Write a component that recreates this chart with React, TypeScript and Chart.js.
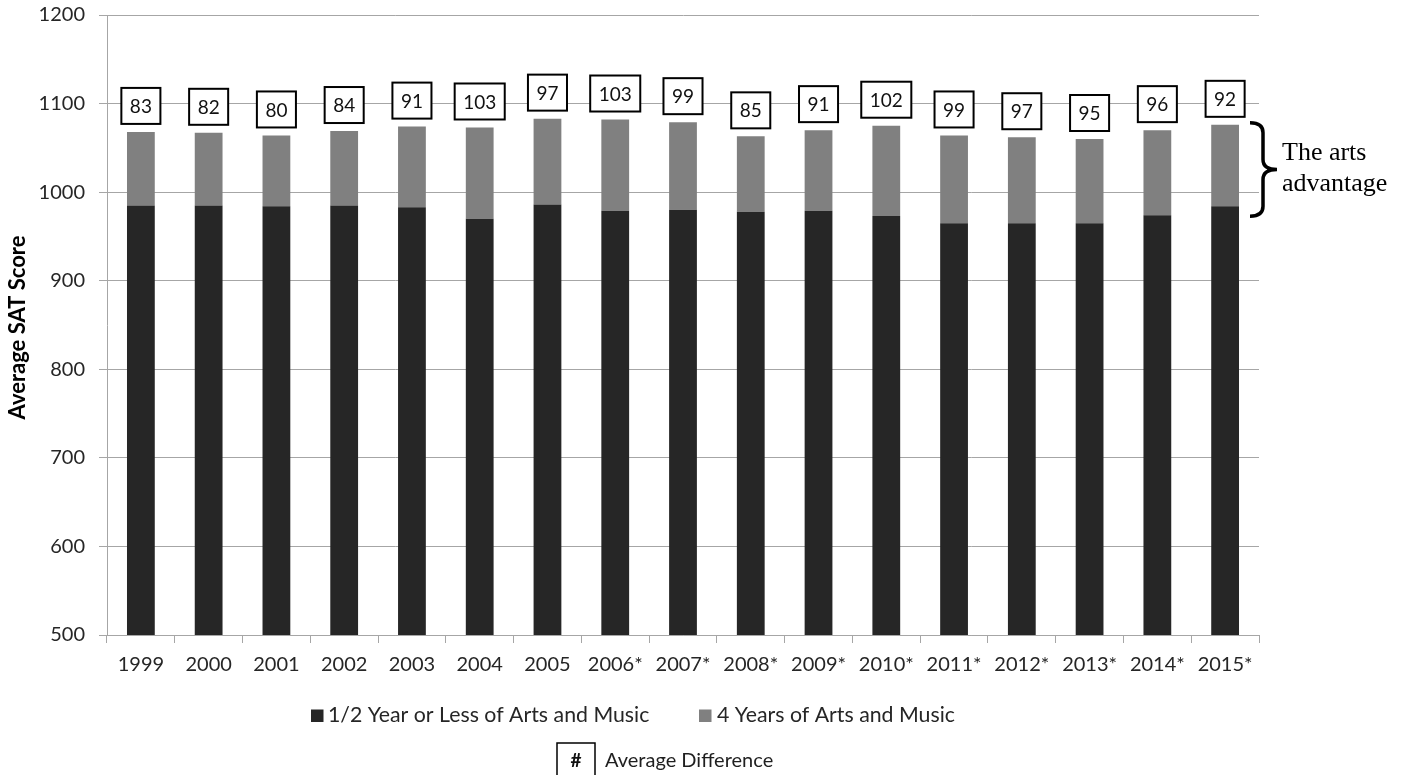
import React, { useEffect, useRef } from 'react';
import { Chart, registerables } from 'chart.js';

Chart.register(...registerables);

// ---- data ----
const years = ['1999', '2000', '2001', '2002', '2003', '2004', '2005', '2006*', '2007*', '2008*', '2009*', '2010*', '2011*', '2012*', '2013*', '2014*', '2015*'];
const lowArtsScores = [985, 985, 984, 985, 983, 970, 986, 979, 980, 978, 979, 973, 965, 965, 965, 974, 984];
const artsDifference = [83, 82, 80, 84, 91, 103, 97, 103, 99, 85, 91, 102, 99, 97, 95, 96, 92];
const seriesNames = ['1/2 Year or Less of Arts and Music', '4 Years of Arts and Music'];
const seriesColors = ['#262626', '#808080'];
const yMin = 500;
const yMax = 1200;
const yStep = 100;
const yTitle = 'Average SAT Score';
const noteSymbol = '#';
const noteLabel = 'Average Difference';
const braceLines = ['The arts', 'advantage'];

const FONT = 'Lato, "Open Sans", sans-serif';
const TEXT = '#262626';
const GRID = '#a6a6a6';

const overlayPlugin = {
  id: 'overlay',
  afterDatasetsDraw(chart: any) {
    const ctx = chart.ctx as CanvasRenderingContext2D;
    const xs = chart.scales.x;
    const ys = chart.scales.y;
    ctx.save();
    // difference boxes above bars
    ctx.font = `19px ${FONT}`;
    ctx.textAlign = 'center';
    ctx.textBaseline = 'middle';
    lowArtsScores.forEach((v, i) => {
      const d = artsDifference[i];
      const cx = xs.getPixelForValue(i);
      const top = ys.getPixelForValue(v + d);
      const txt = String(d);
      const w = ctx.measureText(txt).width + 17;
      const h = 36;
      const by = top - 8 - h;
      ctx.fillStyle = '#ffffff';
      ctx.fillRect(cx - w / 2, by, w, h);
      ctx.lineWidth = 2;
      ctx.strokeStyle = '#000000';
      ctx.strokeRect(cx - w / 2, by, w, h);
      ctx.fillStyle = '#111111';
      ctx.fillText(txt, cx, by + h / 2 + 1);
    });

    // curly brace on last bar's advantage segment
    const last = lowArtsScores.length - 1;
    const bTop = ys.getPixelForValue(lowArtsScores[last] + artsDifference[last]) - 2;
    const bBot = ys.getPixelForValue(lowArtsScores[last]) + 10;
    const x0 = chart.chartArea.right - 9;
    const x1 = x0 + 27;
    const xm = x0 + 13;
    const mid = (bTop + bBot) / 2;
    const r = 10;
    ctx.beginPath();
    ctx.moveTo(x0, bTop);
    ctx.quadraticCurveTo(xm, bTop, xm, bTop + r);
    ctx.lineTo(xm, mid - r);
    ctx.quadraticCurveTo(xm, mid, x1, mid);
    ctx.quadraticCurveTo(xm, mid, xm, mid + r);
    ctx.lineTo(xm, bBot - r);
    ctx.quadraticCurveTo(xm, bBot, x0, bBot);
    ctx.lineWidth = 3.5;
    ctx.strokeStyle = '#000';
    ctx.stroke();

    ctx.font = '26px "Liberation Serif", "Times New Roman", serif';
    ctx.fillStyle = '#000';
    ctx.textAlign = 'left';
    ctx.textBaseline = 'alphabetic';
    ctx.fillText(braceLines[0], x1 + 5, 160);
    ctx.fillText(braceLines[1], x1 + 5, 191);
    ctx.restore();
  },
  afterDraw(chart: any) {
    const ctx = chart.ctx as CanvasRenderingContext2D;
    ctx.save();
    // y axis title
    ctx.translate(17.5, 327.5);
    ctx.rotate(-Math.PI / 2);
    ctx.font = `bold 22px ${FONT}`;
    ctx.fillStyle = '#000';
    ctx.textAlign = 'center';
    ctx.textBaseline = 'middle';
    ctx.fillText(yTitle, 0, 0);
    ctx.restore();

    ctx.save();
    // legend row 1
    ctx.textAlign = 'left';
    ctx.textBaseline = 'alphabetic';
    const items = [
      { sx: 311, tx: 328 },
      { sx: 699, tx: 717 },
    ];
    ctx.font = `21.3px ${FONT}`;
    chart.data.datasets.forEach((ds: any, i: number) => {
      ctx.fillStyle = ds.backgroundColor;
      ctx.fillRect(items[i].sx, 709.5, 12.5, 12.5);
      ctx.fillStyle = TEXT;
      ctx.fillText(ds.label, items[i].tx, 722);
    });
    // legend row 2: boxed symbol
    ctx.strokeStyle = '#000';
    ctx.lineWidth = 1.5;
    ctx.beginPath();
    ctx.moveTo(557, 790);
    ctx.lineTo(557, 743);
    ctx.lineTo(595, 743);
    ctx.lineTo(595, 790);
    ctx.stroke();
    ctx.font = `bold 19px ${FONT}`;
    ctx.textAlign = 'center';
    ctx.fillStyle = '#111';
    ctx.fillText(noteSymbol, 576, 767);
    ctx.font = `20px ${FONT}`;
    ctx.textAlign = 'left';
    ctx.fillStyle = '#1f1f1f';
    ctx.fillText(noteLabel, 605, 767);
    ctx.restore();
  },
};

export default function App() {
  const canvasRef = useRef<HTMLCanvasElement | null>(null);

  useEffect(() => {
    if (!canvasRef.current) return;
    Chart.defaults.font.family = FONT;
    const chart = new Chart(canvasRef.current, {
      type: 'bar',
      data: {
        labels: years,
        datasets: [
          {
            label: seriesNames[0],
            data: lowArtsScores,
            backgroundColor: seriesColors[0],
            borderWidth: 0,
            categoryPercentage: 1,
            barPercentage: 0.41,
          },
          {
            label: seriesNames[1],
            data: artsDifference,
            backgroundColor: seriesColors[1],
            borderWidth: 0,
            categoryPercentage: 1,
            barPercentage: 0.41,
          },
        ],
      },
      options: {
        animation: false,
        responsive: true,
        maintainAspectRatio: false,
        layout: { padding: { left: 0, top: 15, right: 146, bottom: 0 } },
        plugins: {
          legend: { display: false },
          tooltip: { enabled: false },
          title: { display: false },
        },
        scales: {
          x: {
            stacked: true,
            grid: {
              display: true,
              drawOnChartArea: false,
              drawTicks: true,
              tickLength: 8,
              color: GRID,
              offset: true,
            },
            border: { display: true, color: GRID, width: 1 },
            ticks: {
              color: TEXT,
              font: { size: 20, family: FONT },
              padding: 10,
              maxRotation: 0,
              autoSkip: false,
            },
            afterFit: (s: any) => {
              s.height = 140;
            },
          },
          y: {
            stacked: true,
            min: yMin,
            max: yMax,
            grid: {
              color: GRID,
              tickLength: 8,
              drawTicks: true,
            },
            border: { display: true, color: GRID, width: 1 },
            ticks: {
              stepSize: yStep,
              color: TEXT,
              font: { size: 20, family: FONT },
              padding: 14,
              callback: (v: any) => String(v),
            },
            afterFit: (s: any) => {
              s.width = 107;
              s.paddingTop = 0;
              s.paddingBottom = 0;
            },
          },
        },
      },
      plugins: [overlayPlugin],
    });
    return () => chart.destroy();
  }, []);

  return (
    <div style={{ position: 'fixed', left: 0, top: 0, width: 1405, height: 775, background: '#fff' }}>
      <canvas ref={canvasRef} />
    </div>
  );
}
